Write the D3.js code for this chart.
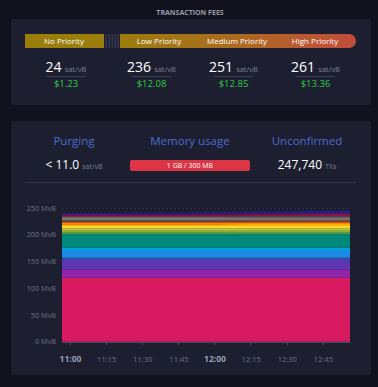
<!DOCTYPE html>
<html>
<head>
<meta charset="utf-8">
<script src="https://cdn.jsdelivr.net/npm/d3@7"></script>
<style>
  html, body { margin: 0; padding: 0; background: #11121d; }
  svg { display: block; font-family: "Open Sans", "DejaVu Sans", sans-serif; }
</style>
</head>
<body>
<svg id="chart" width="378" height="387"></svg>
<script>
// ---- data ----
var feeLabels = ["No Priority", "Low Priority", "Medium Priority", "High Priority"];
var feeRates = [24, 236, 251, 261];
var feeUsd = ["$1.23", "$12.08", "$12.85", "$13.36"];

var purgingRate = "11.0";
var memoryUsage = "1 GB / 300 MB";
var unconfirmedTxs = "247,740";

var times = ["10:56:40", "11:15:00", "11:30:00", "11:45:00", "12:00:00", "12:15:00", "12:30:00", "12:45:00", "12:56:15"];
var tickTimes = ["11:00", "11:15", "11:30", "11:45", "12:00", "12:15", "12:30", "12:45"];
var yTicks = [0, 50, 100, 150, 200, 250];

var bandColors = ["#D81B60", "#8E24AA", "#5E35B1", "#3949AB", "#1E88E5", "#039BE5", "#00ACC1", "#00897B",
  "#43A047", "#7CB342", "#C0CA33", "#FDD835", "#FFB300", "#FB8C00", "#F4511E", "#6D4C41", "#757575",
  "#546E7A", "#b71c1c", "#880E4F", "#4A148C", "#311B92", "#1A237E"];

// MvB per fee band, one row per band, one value per time
var vsize = [
  [120, 120, 120, 120, 120, 120, 120, 120, 120],
  [15.7, 15.7, 15.7, 15.7, 15.7, 15.7, 15.7, 15.7, 15.7],
  [17.4, 17.4, 17.4, 17.4, 17.4, 17.4, 17.4, 17.4, 17.4],
  [4.3, 4.3, 4.3, 4.3, 4.3, 4.3, 4.3, 4.3, 4.3],
  [12.6, 12.6, 12.6, 12.6, 12.6, 12.6, 12.6, 12.6, 12.6],
  [3.7, 3.7, 3.7, 3.7, 3.7, 3.7, 3.7, 3.7, 3.7],
  [2.5, 2.5, 2.5, 2.5, 2.5, 2.5, 2.5, 2.5, 2.5],
  [25.1, 25.1, 25.1, 25.1, 25.1, 25.1, 25.1, 25.1, 25.1],
  [3.0, 3.0, 3.0, 3.0, 3.0, 3.0, 3.0, 3.0, 3.0],
  [3.7, 3.7, 3.7, 3.7, 3.7, 3.7, 3.7, 3.7, 3.7],
  [4.5, 4.5, 4.5, 4.5, 4.5, 4.5, 4.5, 4.5, 4.5],
  [4.3, 4.3, 4.3, 4.3, 4.3, 4.3, 4.3, 4.3, 4.3],
  [3.2, 3.2, 3.2, 3.2, 3.2, 3.6, 3.6, 3.6, 3.6],
  [3.0, 3.0, 3.0, 3.0, 3.0, 3.0, 3.0, 3.0, 3.0],
  [1.9, 1.9, 1.9, 1.9, 1.9, 1.9, 1.9, 1.9, 1.9],
  [2.6, 2.6, 2.6, 2.6, 2.6, 2.6, 2.6, 2.6, 2.6],
  [4.3, 4.3, 4.3, 4.3, 4.3, 4.3, 4.3, 4.3, 4.3],
  [2.5, 2.5, 2.5, 2.5, 2.5, 2.5, 2.5, 2.5, 2.5],
  [1.8, 1.8, 1.9, 2.0, 2.1, 2.2, 2.3, 2.4, 2.4],
  [1.5, 1.5, 1.6, 1.7, 1.8, 1.9, 2.0, 2.1, 2.2],
  [1.5, 1.5, 1.6, 1.6, 1.7, 1.8, 1.9, 2.0, 2.0],
  [1.0, 1.0, 1.1, 1.2, 1.2, 1.3, 1.4, 1.5, 1.5],
  [1.0, 1.1, 1.3, 1.5, 1.7, 1.9, 2.1, 2.3, 2.5]
];

var svg = d3.select("#chart");
var parseT = d3.timeParse("%H:%M:%S");

// cards
svg.append("rect").attr("x", 11).attr("y", 19).attr("width", 360).attr("height", 86).attr("rx", 3).attr("fill", "#1d1f31");
svg.append("rect").attr("x", 11).attr("y", 121).attr("width", 360).attr("height", 254).attr("rx", 3).attr("fill", "#1d1f31");

svg.append("text").attr("x", 190).attr("y", 14.5).attr("text-anchor", "middle")
    .attr("font-size", 7).attr("font-weight", "bold").attr("fill", "#9a9cab")
    .text("TRANSACTION FEES");

// fee bar
var defs = svg.append("defs");
var grad = defs.append("linearGradient").attr("id", "feeGrad");
grad.append("stop").attr("offset", "0%").attr("stop-color", "#9b7d0c");
grad.append("stop").attr("offset", "50%").attr("stop-color", "#ac6b20");
grad.append("stop").attr("offset", "100%").attr("stop-color", "#c34b3c");

svg.append("rect").attr("x", 25).attr("y", 34).attr("width", 79).attr("height", 14).attr("fill", "#9a7d0b");
d3.range(5).forEach(function(i) {
  svg.append("rect").attr("x", 105.5 + i * 3).attr("y", 34).attr("width", 1.3).attr("height", 14).attr("fill", "#3a3d56");
});
var bx0 = 120, bx1 = 356, by0 = 34, by1 = 48, br = 7;
svg.append("path")
    .attr("d", "M" + bx0 + "," + by0 + "H" + (bx1 - br) + "A" + br + "," + br + " 0 0 1 " + (bx1 - br) + "," + by1 + "H" + bx0 + "Z")
    .attr("fill", "url(#feeGrad)");

var labelX = [64, 159, 237, 315];
svg.selectAll(".feeLabel").data(feeLabels).enter().append("text")
    .attr("x", function(d, i) { return labelX[i]; })
    .attr("y", 44.3).attr("text-anchor", "middle")
    .attr("font-size", 8).attr("fill", "#ffffff")
    .text(function(d) { return d; });

var colX = [66, 151.5, 233.5, 315.5];
colX.forEach(function(cx, i) {
  var t = svg.append("text").attr("x", cx).attr("y", 72).attr("text-anchor", "middle");
  t.append("tspan").attr("font-size", 14).attr("fill", "#ffffff").text(feeRates[i]);
  t.append("tspan").attr("font-size", 7.5).attr("fill", "#7d8090").attr("dx", 3).text("sat/vB");
  svg.append("line").attr("x1", cx - 20).attr("x2", cx + 20).attr("y1", 76.5).attr("y2", 76.5)
      .attr("stroke", "#3c3f55").attr("stroke-width", 1);
  svg.append("text").attr("x", cx).attr("y", 86.8).attr("text-anchor", "middle")
      .attr("font-size", 9.5).attr("fill", "#2ecc40").text(feeUsd[i]);
});

// stats row
var statX = [74, 190, 307];
["Purging", "Memory usage", "Unconfirmed"].forEach(function(d, i) {
  svg.append("text").attr("x", statX[i]).attr("y", 145).attr("text-anchor", "middle")
      .attr("font-size", 11.5).attr("fill", "#4a6dd0").text(d);
});
var p = svg.append("text").attr("x", statX[0]).attr("y", 168.5).attr("text-anchor", "middle");
p.append("tspan").attr("font-size", 12).attr("fill", "#ffffff").text("< " + purgingRate);
p.append("tspan").attr("font-size", 7).attr("fill", "#7d8090").attr("dx", 3).text("sat/vB");

svg.append("rect").attr("x", 130).attr("y", 160).attr("width", 120).attr("height", 11).attr("rx", 2).attr("fill", "#dc3545");
svg.append("text").attr("x", 190).attr("y", 168).attr("text-anchor", "middle")
    .attr("font-size", 7).attr("fill", "#ffffff").text(memoryUsage);

var u = svg.append("text").attr("x", statX[2]).attr("y", 168.5).attr("text-anchor", "middle");
u.append("tspan").attr("font-size", 12).attr("fill", "#ffffff").text(unconfirmedTxs);
u.append("tspan").attr("font-size", 7).attr("fill", "#7d8090").attr("dx", 3).text("TXs");

svg.append("line").attr("x1", 25).attr("x2", 356).attr("y1", 182.5).attr("y2", 182.5)
    .attr("stroke", "#34374c").attr("stroke-width", 1);

// mempool chart
var x = d3.scaleTime()
    .domain([parseT(times[0]), parseT(times[times.length - 1])])
    .range([62, 350]);
var y = d3.scaleLinear().domain([0, 250]).range([341.7, 208.3]);

var rows = times.map(function(t, j) {
  var r = { time: parseT(t) };
  vsize.forEach(function(band, k) { r["b" + k] = band[j]; });
  return r;
});
var keys = vsize.map(function(d, k) { return "b" + k; });
var series = d3.stack().keys(keys)(rows);

svg.append("line").attr("x1", 62).attr("x2", 350).attr("y1", y(250)).attr("y2", y(250))
    .attr("stroke", "#2c2f44").attr("stroke-dasharray", "2,2");

var area = d3.area()
    .x(function(d) { return x(d.data.time); })
    .y0(function(d) { return y(d[0]); })
    .y1(function(d) { return y(d[1]); });

svg.append("g").selectAll("path").data(series).enter().append("path")
    .attr("d", area)
    .attr("fill", function(d, i) { return bandColors[i]; });

// y axis labels
svg.append("g").selectAll("text").data(yTicks).enter().append("text")
    .attr("x", 56).attr("y", function(d) { return y(d) + 2.5; })
    .attr("text-anchor", "end").attr("font-size", 7.3).attr("fill", "#6f7386")
    .text(function(d) { return d + " MvB"; });

// x axis
var parseHM = d3.timeParse("%H:%M");
var fmt = d3.timeFormat("%H:%M");
var xAxis = svg.append("g").attr("transform", "translate(0," + 342 + ")")
    .call(d3.axisBottom(x).tickValues(tickTimes.map(parseHM)).tickFormat(fmt).tickSize(3).tickSizeOuter(0));
xAxis.select(".domain").attr("stroke", "#4a4d63");
xAxis.selectAll(".tick line").attr("stroke", "#4a4d63");
xAxis.selectAll(".tick text")
    .attr("dy", 0).attr("y", 20)
    .attr("font-family", "Open Sans, sans-serif")
    .attr("font-size", function(d) { return d.getMinutes() === 0 ? 8.5 : 7.5; })
    .attr("font-weight", function(d) { return d.getMinutes() === 0 ? "bold" : "normal"; })
    .attr("fill", function(d) { return d.getMinutes() === 0 ? "#9a9dad" : "#6f7386"; });
</script>
</body>
</html>
